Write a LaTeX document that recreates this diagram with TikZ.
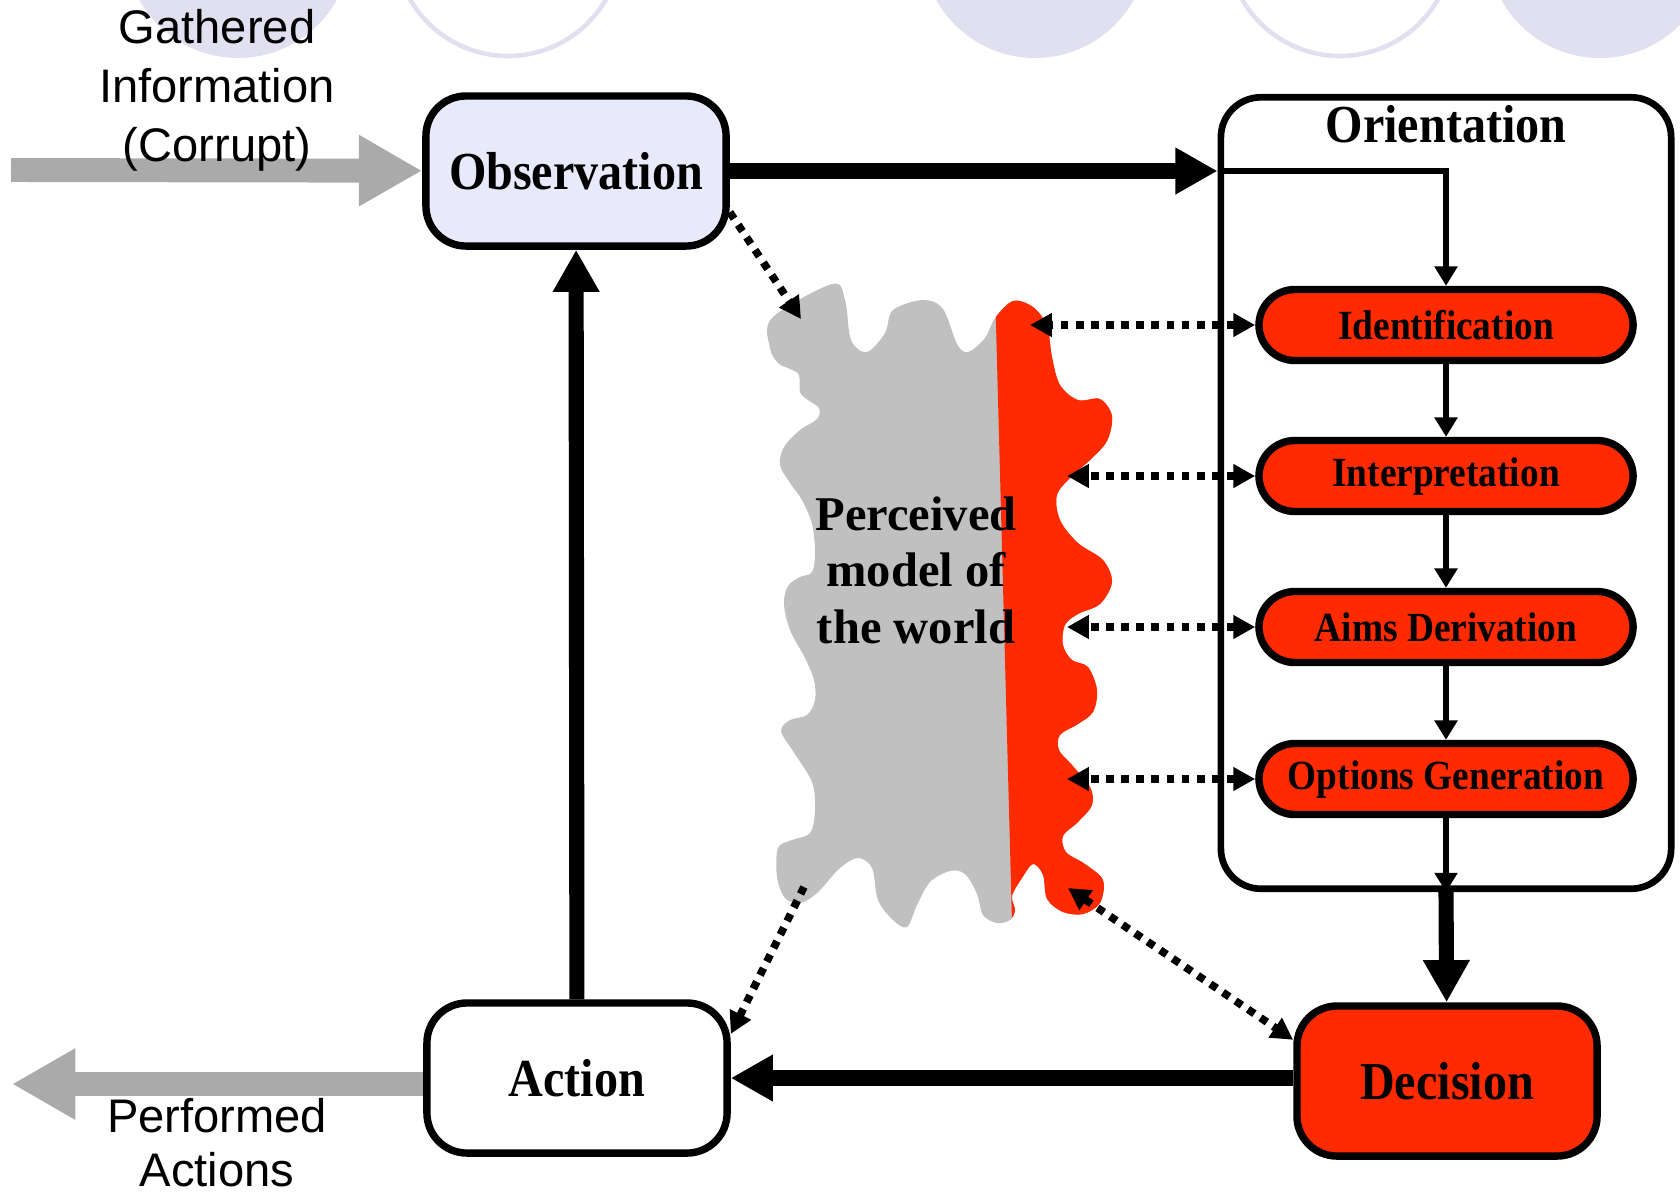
\documentclass[tikz,border=0pt]{standalone}
\usepackage{fontspec}
\setmainfont{Liberation Serif}
\newfontfamily\labelfont{Liberation Sans}
\newfontfamily\boxfont[FakeStretch=0.9]{Liberation Serif}
\usetikzlibrary{arrows.meta}
\definecolor{obsfill}{RGB}{232,234,252}
\definecolor{orared}{RGB}{255,42,0}
\definecolor{blobgray}{RGB}{191,192,191}
\definecolor{arrowgray}{RGB}{170,170,170}
\definecolor{deco}{RGB}{224,224,240}

\begin{document}
\begin{tikzpicture}%
	[x=0.01cm, y=-0.01cm,
	box/.style={draw, line width=2.1pt, rounded corners=0.4cm, minimum width=3cm, minimum height=1.5cm, font=\boxfont\bfseries\fontsize{15.2}{18}\selectfont},
	pill/.style={draw, line width=2.1pt, fill=orared, rounded corners=0.36cm, minimum width=3.74cm, minimum height=0.71cm, font=\boxfont\bfseries\fontsize{11.8}{14}\selectfont},
	container/.style={draw, line width=1.9pt, rounded corners=0.4cm, minimum width=4.5cm, minimum height=7.91cm},
	title/.style={font=\boxfont\bfseries\fontsize{15.2}{18}\selectfont},
	perc/.style={align=center, font=\bfseries\fontsize{13.8}{16.1}\selectfont},
	graylabel/.style={align=center, font=\labelfont\fontsize{13.4}{16.8}\selectfont},
	bigarrow/.style={line width=4.3pt, -{Triangle[length=12pt,width=12.5pt]}},
	smallarrow/.style={line width=1.7pt, -{Triangle[length=5.5pt,width=6.3pt]}},
	dotarrow/.style={line width=2.2pt, dash pattern=on 2.2pt off 2.1pt, >={Triangle[length=6.2pt,width=6.4pt]}},
	grayarrow/.style={color=arrowgray, line width=6.8pt, -{Triangle[length=18pt,width=19pt]}}]
	\useasboundingbox (0,0) rectangle (1680,1193);

	% background
	\begin{scope}
		\clip (0,0) rectangle (1680,1193);
		\foreach \cx in {238,1035,1600}
			\fill[deco] (\cx,-55) circle [radius=113];
		\foreach \cx in {508,1340}
			\draw[deco, line width=1.3pt, fill=white] (\cx,-57) circle [radius=113];
	\end{scope}

	% perceived model of the world
	\path[save path=\blobpath] plot[smooth cycle, tension=0.55] coordinates {
		(770,348) (772,318) (832,284) (845,300) (851,340) (867,352) (885,333) (893,310)
		(923,300) (943,309) (957,344) (968,352) (985,338) (995,318) (1013,301) (1033,307)
		(1047,326) (1052,357) (1060,385) (1078,400) (1100,399) (1112,416) (1107,441) (1090,460)
		(1072,476) (1057,495) (1060,520) (1078,543) (1103,560) (1112,582) (1100,604) (1078,614)
		(1065,625) (1063,645) (1072,660) (1088,667) (1097,690) (1093,712) (1078,724) (1060,735)
		(1059,750) (1072,765) (1090,787) (1092,805) (1078,822) (1063,836) (1066,852) (1085,864)
		(1103,880) (1100,903) (1083,914) (1063,912) (1047,899) (1043,875) (1033,864) (1022,878)
		(1012,896) (1015,910) (1010,920) (997,923) (983,915) (977,894) (965,874) (950,871)
		(930,882) (917,905) (907,927) (893,920) (878,900) (872,868) (858,858) (840,868)
		(817,893) (800,903) (785,898) (777,877) (778,848) (792,840) (810,833) (815,810)
		(812,782) (793,751) (781,731) (790,720) (807,715) (815,700) (814,680) (805,658)
		(790,630) (784,604) (788,586) (800,577) (812,572) (815,552) (812,524) (802,500)
		(790,483) (780,465) (784,447) (800,430) (817,419) (819,408) (808,400) (800,392)
		(799,375) (790,369) (778,363)};
	\fill[blobgray, use path=\blobpath];
	\begin{scope}
		\clip (994,250) -- (1013,960) -- (1200,960) -- (1200,250) -- cycle;
		\fill[orared, use path=\blobpath];
	\end{scope}
	\node[perc] (model) at (916,570) {Perceived\\model of\\the world};

	\node[box, fill=obsfill] (obs) at (576,171) {Observation};
	\node[box, fill=white] (act) at (577,1078) {Action};
	\node[box, fill=orared] (dec) at (1447,1081) {Decision};
	\node[container] (cont) at (1446,493) {};
	\node[title] (ortitle) at (1446,124) {Orientation};
	\node[pill] (ident) at (1446,325) {Identification};
	\node[pill] (interp) at (1446,476) {Interpretation};
	\node[pill] (aims) at (1446,627) {Aims Derivation};
	\node[pill] (opts) at (1446,779) {Options Generation};

	\coordinate (entry) at (obs -| cont.west);
	\coordinate (inStart) at (11,170);
	\coordinate (outEnd) at (12,1084);
	\coordinate (bObs) at (801,319);
	\coordinate (bAct) at (804,887);
	\coordinate (bDec) at (1068,888);
	\coordinate (bIdent) at (1030,325);
	\coordinate (bInterp) at (1067,476);
	\coordinate (bAims) at (1067,627);
	\coordinate (bOpts) at (1067,779);

	% main loop
	\draw[grayarrow] (inStart) -- (obs);
	\draw[grayarrow] (act.west |- outEnd) -- (outEnd);
	\draw[bigarrow] (obs) -- (entry);
	\draw[smallarrow] (entry) -| (ident);
	\draw[smallarrow] (ident) -- (interp);
	\draw[smallarrow] (interp) -- (aims);
	\draw[smallarrow] (aims) -- (opts);
	\draw[smallarrow] (opts) -- (cont.south);
	\draw[bigarrow] (cont.south) -- (dec);
	\draw[bigarrow] (dec.west |- act) -- (act);
	\draw[bigarrow] (act) -- (obs);

	\node[graylabel] (gathered) at (217,90) {Gathered\\Information\\(Corrupt)};
	\node[graylabel, font=\labelfont\fontsize{13.4}{15.4}\selectfont] (performed) at (217,1143) {Performed\\Actions};

	% links to the model
	\draw[dotarrow, ->] (obs.-15) -- (bObs);
	\draw[dotarrow, ->] (bAct) -- (act.16);
	\draw[dotarrow, <->] (bDec) -- (dec.165);
	\foreach \p/\b in {ident/bIdent, interp/bInterp, aims/bAims, opts/bOpts}
		\draw[dotarrow, <->] (\p.west) -- (\b);
\end{tikzpicture}
\end{document}
